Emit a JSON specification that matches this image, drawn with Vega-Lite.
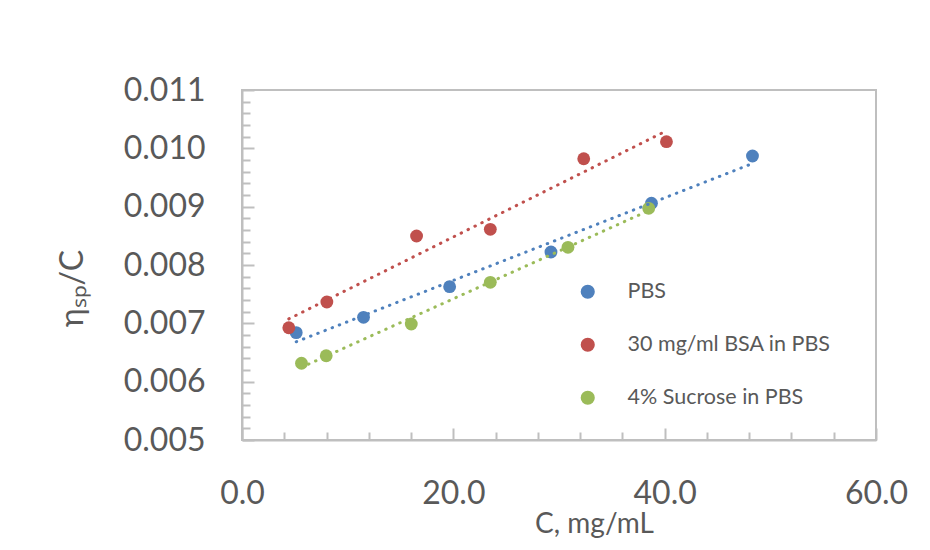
{
  "$schema": "https://vega.github.io/schema/vega-lite/v6.json",
  "width": 634,
  "height": 350,
  "autosize": "none",
  "padding": {"left": 242, "top": 90, "right": 54, "bottom": 110},
  "background": "white",
  "config": {
    "view": {"stroke": "#BFBFBF", "strokeWidth": 2},
    "font": "Lato"
  },
  "data": {
    "values": [
      {"series": "PBS", "C": 5.13, "eta": 0.00684},
      {"series": "PBS", "C": 11.5, "eta": 0.007103},
      {"series": "PBS", "C": 19.65, "eta": 0.007628},
      {"series": "PBS", "C": 29.24, "eta": 0.008223},
      {"series": "PBS", "C": 38.75, "eta": 0.009058},
      {"series": "PBS", "C": 48.31, "eta": 0.009869},
      {"series": "30 mg/ml BSA in PBS", "C": 4.43, "eta": 0.006925},
      {"series": "30 mg/ml BSA in PBS", "C": 8.03, "eta": 0.007366},
      {"series": "30 mg/ml BSA in PBS", "C": 16.52, "eta": 0.008497},
      {"series": "30 mg/ml BSA in PBS", "C": 23.5, "eta": 0.008612},
      {"series": "30 mg/ml BSA in PBS", "C": 32.34, "eta": 0.009822},
      {"series": "30 mg/ml BSA in PBS", "C": 40.17, "eta": 0.010114},
      {"series": "4% Sucrose in PBS", "C": 5.63, "eta": 0.006315},
      {"series": "4% Sucrose in PBS", "C": 7.97, "eta": 0.006445},
      {"series": "4% Sucrose in PBS", "C": 16.02, "eta": 0.006989},
      {"series": "4% Sucrose in PBS", "C": 23.5, "eta": 0.007703},
      {"series": "4% Sucrose in PBS", "C": 30.85, "eta": 0.008303},
      {"series": "4% Sucrose in PBS", "C": 38.49, "eta": 0.008972}
    ]
  },
  "layer": [
    {
      "mark": {"type": "circle", "size": 165, "opacity": 1},
      "encoding": {
        "x": {
          "field": "C", "type": "quantitative",
          "scale": {"domain": [0, 60], "nice": false, "zero": false},
          "axis": {
            "orient": "bottom",
            "values": [0, 20, 40, 60], "format": ".1f",
            "title": "C, mg/mL",
            "grid": false,
            "domainColor": "#BFBFBF", "domainWidth": 2,
            "tickColor": "#BFBFBF", "tickWidth": 2, "tickSize": -12,
            "labelFontSize": 32, "labelColor": "#595959", "labelFont": "Lato",
            "labelPadding": 50, "labelFlush": false,
            "titleFontSize": 28, "titleColor": "#595959", "titleFont": "Lato", "titleFontWeight": "normal",
            "titleX": 352, "titleY": 92, "titleBaseline": "alphabetic", "titleAlign": "center"
          }
        },
        "y": {
          "field": "eta", "type": "quantitative",
          "scale": {"domain": [0.005, 0.011], "nice": false, "zero": false},
          "axis": {
            "orient": "left",
            "values": [0.005, 0.006, 0.007, 0.008, 0.009, 0.010, 0.011], "format": ".3f",
            "title": "ηₛₚ/C",
            "grid": false,
            "domainColor": "#BFBFBF", "domainWidth": 2,
            "tickColor": "#BFBFBF", "tickWidth": 2, "tickSize": -12,
            "labelFontSize": 32, "labelColor": "#595959", "labelFont": "Lato",
            "labelPadding": 49, "labelFlush": false,
            "titleFontSize": 32, "titleColor": "#595959", "titleFont": "Lato", "titleFontWeight": "normal",
            "titleX": -170, "titleY": 198, "titleBaseline": "middle", "titleAlign": "center", "titleAngle": -90
          }
        },
        "color": {
          "field": "series", "type": "nominal",
          "scale": {
            "domain": ["PBS", "30 mg/ml BSA in PBS", "4% Sucrose in PBS"],
            "range": ["#4F81BD", "#C0504D", "#9BBB59"]
          },
          "legend": {
            "orient": "none", "legendX": 335, "legendY": 191,
            "title": null, "symbolType": "circle", "symbolSize": 200,
            "symbolStrokeWidth": 0,
            "labelFontSize": 21.5, "labelColor": "#595959", "labelFont": "Lato",
            "labelOffset": 29, "rowPadding": 30, "labelLimit": 400
          }
        }
      }
    },
    {
      "transform": [
        {"regression": "eta", "on": "C", "groupby": ["series"]}
      ],
      "mark": {"type": "line", "strokeWidth": 3, "strokeDash": [0.5, 7.2], "strokeCap": "round"},
      "encoding": {
        "x": {
          "field": "C", "type": "quantitative",
          "axis": {
            "orient": "bottom",
            "values": [4, 8, 12, 16, 24, 28, 32, 36, 44, 48, 52, 56],
            "labels": false, "domain": false, "grid": false, "title": null,
            "tickColor": "#BFBFBF", "tickWidth": 2, "tickSize": -8
          }
        },
        "y": {
          "field": "eta", "type": "quantitative",
          "axis": {
            "orient": "left",
            "values": [0.0052, 0.0054, 0.0056, 0.0058, 0.0062, 0.0064, 0.0066, 0.0068, 0.0072, 0.0074, 0.0076, 0.0078, 0.0082, 0.0084, 0.0086, 0.0088, 0.0092, 0.0094, 0.0096, 0.0098, 0.0102, 0.0104, 0.0106, 0.0108],
            "labels": false, "domain": false, "grid": false, "title": null,
            "tickColor": "#BFBFBF", "tickWidth": 2, "tickSize": -8
          }
        },
        "stroke": {
          "field": "series", "type": "nominal",
          "scale": {
            "domain": ["PBS", "30 mg/ml BSA in PBS", "4% Sucrose in PBS"],
            "range": ["#4F81BD", "#C0504D", "#9BBB59"]
          },
          "legend": null
        }
      }
    }
  ],
  "resolve": {"axis": {"x": "independent", "y": "independent"}}
}
